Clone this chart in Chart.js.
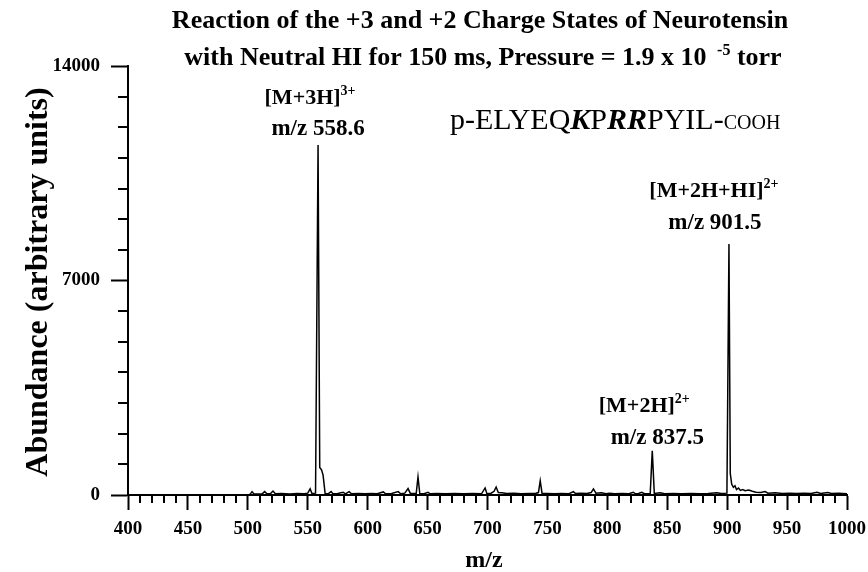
<!DOCTYPE html>
<html>
<head>
<meta charset="utf-8">
<script src="https://cdn.jsdelivr.net/npm/chart.js@4.4.1/dist/chart.umd.min.js"></script>
<style>
  html, body { margin: 0; padding: 0; background: #fff; }
  canvas { display: block; }
</style>
</head>
<body>
<canvas id="spectrum" width="868" height="572"></canvas>
<script>

// spectrum trace: m/z and abundance (arbitrary units)
const mzValues = [
    500, 502, 503.5, 505, 508, 512, 514, 516, 519, 521, 523, 528, 535, 541, 547, 550, 552, 553.5, 556.5,
    558.6, 560, 561.5, 562.8, 564.5, 567, 569.5, 571, 575, 579.5, 581.5, 584.5, 586.5, 592, 598,
    603, 608, 613, 615, 620, 625.5, 627.5, 631, 633.7, 635.5, 640.5, 642, 643.5, 647, 650.4, 652,
    658, 665, 672, 680, 688, 695, 698, 699.5, 703, 705.5, 707.2, 709, 712, 716, 722, 728, 735, 740,
    742.5, 744, 745.5, 750, 756, 762, 768, 771.7, 773.5, 778, 783, 786.5, 788.4, 790.5, 795, 799,
    802, 806, 812, 818, 821.6, 823.5, 826, 828.7, 831, 835.8, 837.5, 839.2, 844, 848, 855, 862,
    870, 877, 884, 891.4, 895, 899.8, 901.5, 902.6, 903.8, 905.2, 906.5, 907.8, 909.5, 911, 913,
    915, 918, 921, 924, 928, 931.7, 934, 940, 946, 952, 958, 964, 970, 975, 978, 984, 987, 993, 1000
];
const abundance = [
    0, 30, 110, 40, 30, 40, 110, 40, 50, 130, 40, 50, 30, 50, 40, 60, 200, 50, 60,
    11420, 900, 820, 650, 50, 40, 110, 40, 50, 90, 40, 110, 40, 50, 40,
    50, 40, 100, 40, 50, 110, 40, 60, 210, 60, 50, 590, 50, 40, 90, 40,
    50, 40, 50, 40, 50, 40, 230, 40, 60, 120, 260, 80, 70, 50, 60, 40, 50, 50,
    80, 460, 60, 50, 40, 50, 40, 110, 50, 60, 50, 80, 200, 60, 70, 40,
    60, 40, 50, 40, 90, 40, 50, 90, 40, 50, 1440, 50, 70, 40, 50, 40,
    50, 40, 50, 70, 50, 60, 8190, 700, 350, 250, 300, 180, 230, 150, 180,
    140, 160, 120, 90, 80, 110, 60, 70, 50, 60, 50, 60, 50, 90, 50, 80, 50, 60, 40
];

const xTicks = [400, 450, 500, 550, 600, 650, 700, 750, 800, 850, 900, 950, 1000];
const yTicks = [0, 7000, 14000];
const xMinorStep = 10;
const yMinorStep = 1000;

// labelled peaks
const peakMz = [558.6, 901.5, 837.5];
const peakIons = ['[M+3H]', '[M+2H+HI]', '[M+2H]'];
const peakCharges = ['3+', '2+', '2+'];

const titleLine1 = 'Reaction of the +3 and +2 Charge States of Neurotensin';
const titleLine2 = ['with Neutral HI for 150 ms, Pressure = 1.9 x 10 ', ' -5', ' torr'];
const yTitle = 'Abundance (arbitrary units)';
const xTitle = 'm/z';

// where each peak's two label lines sit, relative to the peak top
const peakLabelLayout = [
    { ionDx: -8, ionDy: -41, mzDx: 0, mzDy: -10 },
    { ionDx: -15, ionDy: -47, mzDx: -14, mzDy: -15 },
    { ionDx: -8, ionDy: -39, mzDx: 5, mzDy: -7 }
];

const serifName = '"Liberation Serif", "Times New Roman", serif';
const font = (size, style) => `${style || ''} ${size}px ${serifName}`.trim();

// draws a row of text pieces with their own fonts, e.g. superscripts
const drawRuns = (ctx, runs, x, y, align) => {
    let total = 0;
    runs.forEach(r => {
        ctx.font = r.font;
        r.w = ctx.measureText(r.text).width;
        total += r.w;
    });
    let cx = align === 'center' ? x - total / 2 : x;
    ctx.textAlign = 'left';
    runs.forEach(r => {
        ctx.font = r.font;
        ctx.fillText(r.text, cx, y + (r.dy || 0));
        cx += r.w;
    });
};

const spectrumDecor = {
    id: 'spectrumDecor',
    afterDraw(chart) {
        const { ctx, scales: { x, y } } = chart;
        ctx.save();
        ctx.strokeStyle = '#000';
        ctx.fillStyle = '#000';
        ctx.lineWidth = 2;

        // minor ticks
        ctx.beginPath();
        for (let v = x.min + xMinorStep; v < x.max; v += xMinorStep) {
            if (xTicks.includes(v)) continue;
            const px = Math.round(x.getPixelForValue(v));
            ctx.moveTo(px, y.bottom);
            ctx.lineTo(px, y.bottom + 8);
        }
        for (let v = y.min + yMinorStep; v < y.max; v += yMinorStep) {
            if (yTicks.includes(v)) continue;
            const py = Math.round(y.getPixelForValue(v));
            ctx.moveTo(x.left, py);
            ctx.lineTo(x.left - 10, py);
        }
        ctx.stroke();

        ctx.textBaseline = 'alphabetic';

        // title
        drawRuns(ctx, [{ text: titleLine1, font: font(26, 'bold') }], 480, 28, 'center');
        drawRuns(ctx, [
            { text: titleLine2[0], font: font(26, 'bold') },
            { text: titleLine2[1], font: font(16, 'bold'), dy: -10 },
            { text: titleLine2[2], font: font(26, 'bold') }
        ], 483, 65, 'center');

        // axis titles
        ctx.save();
        ctx.translate(47, 282);
        ctx.rotate(-Math.PI / 2);
        ctx.font = font(32, 'bold');
        ctx.textAlign = 'center';
        ctx.fillText(yTitle, 0, 0);
        ctx.restore();

        ctx.font = font(24, 'bold');
        ctx.textAlign = 'center';
        ctx.fillText(xTitle, 484, 567);

        // peak labels
        peakMz.forEach((mz, i) => {
            const idx = mzValues.indexOf(mz);
            const px = x.getPixelForValue(mz);
            const py = y.getPixelForValue(abundance[idx]);
            const o = peakLabelLayout[i];
            drawRuns(ctx, [
                { text: peakIons[i], font: font(22, 'bold') },
                { text: peakCharges[i], font: font(14, 'bold'), dy: -9 }
            ], px + o.ionDx, py + o.ionDy, 'center');
            drawRuns(ctx, [{ text: 'm/z ' + mz.toFixed(1), font: font(23, 'bold') }], px + o.mzDx, py + o.mzDy, 'center');
        });

        // peptide sequence, basic residues in bold italic
        drawRuns(ctx, [
            { text: 'p-ELYEQ', font: font(30) },
            { text: 'K', font: font(30, 'italic bold') },
            { text: 'P', font: font(30) },
            { text: 'RR', font: font(30, 'italic bold') },
            { text: 'PYIL-', font: font(30) },
            { text: 'COOH', font: font(20) }
        ], 450, 129, 'left');

        ctx.restore();
    }
};

const points = mzValues.map((m, i) => ({ x: m, y: abundance[i] }));

new Chart(document.getElementById('spectrum'), {
    type: 'scatter',
    data: {
        datasets: [{
            data: points,
            showLine: true,
            borderColor: '#000',
            borderWidth: 1.5,
            pointRadius: 0,
            tension: 0,
            fill: false
        }]
    },
    options: {
        responsive: false,
        animation: false,
        devicePixelRatio: 1,
        layout: { padding: { top: 66, right: 21, left: 0, bottom: 0 } },
        plugins: {
            legend: { display: false },
            title: { display: false },
            tooltip: { enabled: false }
        },
        scales: {
            x: {
                type: 'linear',
                position: 'bottom',
                min: 400,
                max: 1000,
                afterBuildTicks: s => { s.ticks = xTicks.map(v => ({ value: v })); },
                afterFit: s => {
                    s.height = 77;
                    // keep the plot edge fixed regardless of end label widths
                    s.paddingLeft = 0;
                    s.paddingRight = 0;
                },
                grid: { drawOnChartArea: false, drawTicks: true, tickLength: 15, tickWidth: 2, color: '#000' },
                border: { display: true, width: 2, color: '#000' },
                ticks: {
                    color: '#000',
                    font: { family: serifName, size: 19, weight: 'bold' },
                    padding: 8,
                    maxRotation: 0,
                    autoSkip: false,
                    callback: v => String(v)
                }
            },
            y: {
                type: 'linear',
                position: 'left',
                min: 0,
                max: 14000,
                afterBuildTicks: s => { s.ticks = yTicks.map(v => ({ value: v })); },
                afterFit: s => { s.width = 128; },
                grid: { drawOnChartArea: false, drawTicks: true, tickLength: 17, tickWidth: 2, color: '#000' },
                border: { display: true, width: 2, color: '#000' },
                ticks: {
                    color: '#000',
                    font: { family: serifName, size: 19, weight: 'bold' },
                    padding: 11,
                    autoSkip: false,
                    callback: v => String(v)
                }
            }
        }
    },
    plugins: [spectrumDecor]
});
</script>
</body>
</html>
